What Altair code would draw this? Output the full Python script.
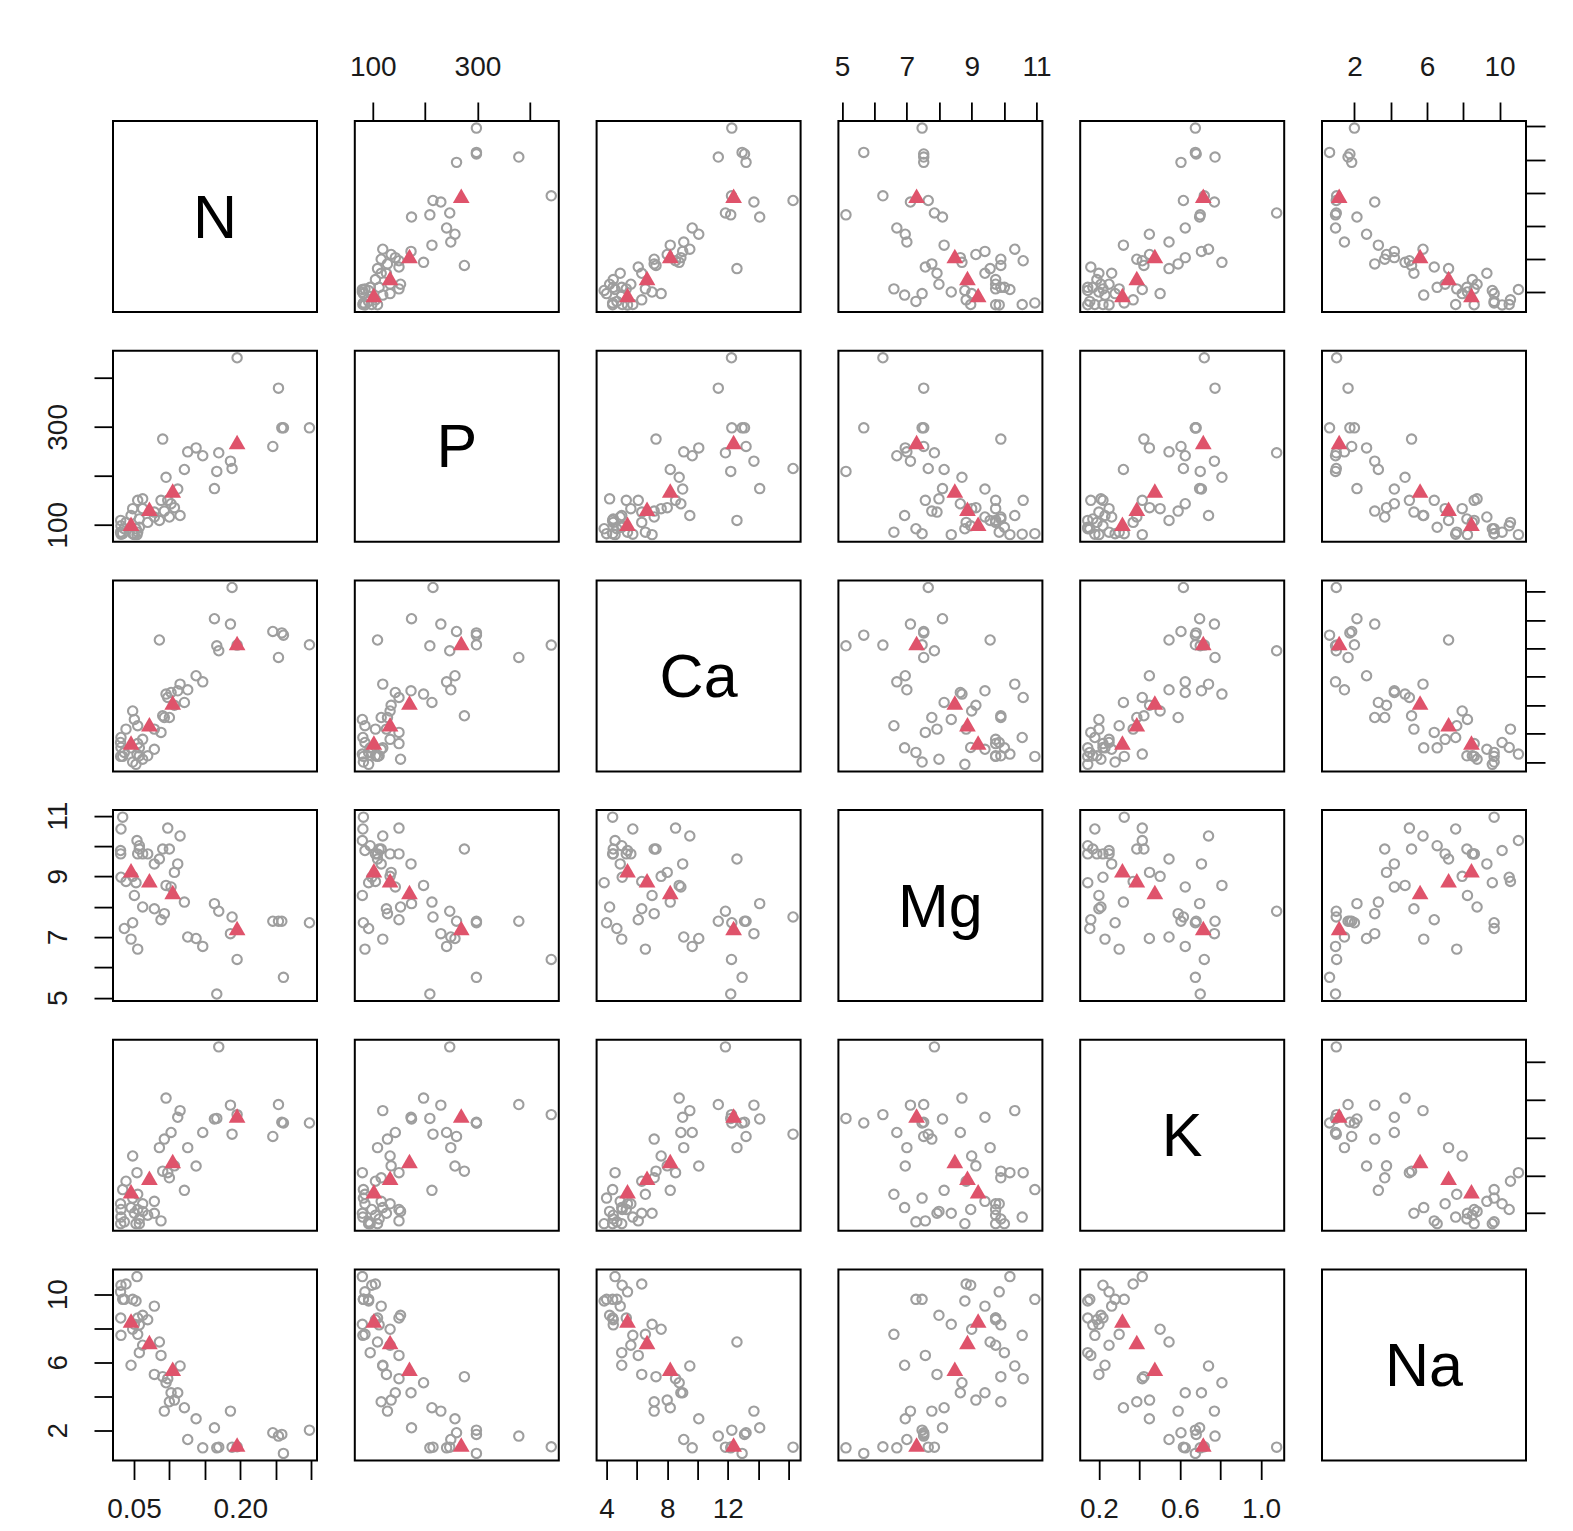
import json
import altair as alt
import pandas as pd

VARS = ["N", "P", "Ca", "Mg", "K", "Na"]

# ---- grey open-circle observations (48) ----
N = [0.1635, 0.1668, 0.1696, 0.1861, 0.1884, 0.1955, 0.2459, 0.2539, 0.2609, 0.2586, 0.2976,
     0.0858, 0.0881, 0.1150, 0.0905, 0.0976, 0.0952, 0.1023, 0.1117, 0.1070, 0.0999, 0.1211, 0.0928, 0.1376, 0.1258, 0.1470,
     0.0542, 0.0387, 0.0316, 0.0310, 0.0363, 0.0481, 0.0340, 0.0528, 0.0787, 0.0622, 0.0552, 0.0312, 0.0693, 0.0505, 0.0575,
     0.0481, 0.0552, 0.0316, 0.0622, 0.0575, 0.0458, 0.0787]
P = [174, 209, 247, 230, 215, 441, 260, 379, 298, 298, 298,
     109, 150, 119, 275, 150, 197, 143, 173, 135, 116, 213, 128, 257, 249, 241,
     80, 105, 98, 85, 92, 82, 82, 92, 116, 153, 150, 109, 105, 80, 112, 133, 85, 81, 133, 95, 119, 126]
Ca = [14.1, 12.19, 11.84, 13.72, 16.3, 12.24, 13.2, 11.37, 12.94, 13.1, 12.26,
      12.6, 6.09, 9.49, 7.26, 8.55, 8.79, 8.9, 9.02, 8.0, 7.14, 8.2, 7.14, 10.08, 9.09, 9.65,
      4.56, 6.32, 5.03, 5.38, 4.68, 4.0, 4.4, 3.84, 4.9, 4.2, 5.3, 4.4, 4.44, 7.0, 4.44, 7.6, 6.56, 5.73, 5.6, 5.0, 5.0, 6.32]
Mg = [8.10, 5.12, 7.85, 7.11, 7.66, 6.26, 7.52, 7.52, 5.67, 7.52, 7.47,
      9.57, 7.57, 10.33, 9.9, 10.59, 8.7, 8.65, 9.41, 9.13, 9.9, 8.15, 7.77, 6.95, 7.0, 6.69,
      10.18, 8.83, 8.97, 9.85, 7.28, 7.47, 10.95, 8.79, 9.41, 7.99, 9.74, 9.74, 9.74, 8.37, 9.9, 9.0, 6.60, 10.56, 9.74,
      10.01, 6.93, 7.93]
K = [0.697, 0.70, 1.077, 0.77, 0.617, 0.72, 0.605, 0.773, 0.676, 0.68, 0.676,
     0.546, 0.16, 0.741, 0.422, 0.414, 0.807, 0.626, 0.706, 0.45, 0.387, 0.321, 0.591, 0.449, 0.546, 0.626,
     0.414, 0.369, 0.22, 0.25, 0.155, 0.28, 0.325, 0.145, 0.263, 0.21, 0.22, 0.145, 0.19, 0.2, 0.17, 0.502, 0.3, 0.18,
     0.25, 0.145, 0.23, 0.2]
Na = [2.14, 0.96, 1.0, 3.12, 1.0, 1.02, 1.85, 1.65, 0.63, 1.75, 2.0,
      7.19, 6.4, 5.78, 5.15, 5.03, 4.79, 4.2, 4.2, 3.77, 3.67, 3.32, 3.12, 2.67, 1.45, 0.96,
      11.04, 10.6, 10.53, 10.14, 9.7, 9.7, 9.7, 9.6, 9.3, 8.76, 8.6, 8.6, 8.5, 8.23, 8.2, 7.94, 7.64, 7.58, 7.0, 6.56,
      5.82, 5.28]

# ---- red triangles (group means) ----
tri_N = [0.0458, 0.0717, 0.1046, 0.1955]
tri_P = [102, 133, 170, 269]
tri_Ca = [5.38, 6.67, 8.2, 12.38]
tri_Mg = [9.2, 8.87, 8.48, 7.30]
tri_K = [0.316, 0.387, 0.476, 0.715]
tri_Na = [8.45, 7.19, 5.62, 1.16]

# ---- axis ticks and which ticks carry a label ----
TICKS = {"N": [0.05, 0.10, 0.15, 0.20, 0.25, 0.30], "P": [100, 200, 300, 400],
         "Ca": [4, 6, 8, 10, 12, 14, 16], "Mg": [5, 6, 7, 8, 9, 10, 11],
         "K": [0.2, 0.4, 0.6, 0.8, 1.0], "Na": [2, 4, 6, 8, 10]}
LABELS = {"N": ["0.05", "0.20"], "P": ["100", "300"], "Ca": ["4", "8", "12"],
          "Mg": ["5", "7", "9", "11"], "K": ["0.2", "0.6", "1.0"], "Na": ["2", "6", "10"]}
FMT = {"N": ".2f", "P": "d", "Ca": "d", "Mg": "d", "K": ".1f", "Na": "d"}

df_c = pd.DataFrame({"N": N, "P": P, "Ca": Ca, "Mg": Mg, "K": K, "Na": Na})
df_t = pd.DataFrame({"N": tri_N, "P": tri_P, "Ca": tri_Ca, "Mg": tri_Mg, "K": tri_K, "Na": tri_Na})
allv = pd.concat([df_c, df_t])

DOM = {}
for v in VARS:
    lo, hi = float(allv[v].min()), float(allv[v].max())
    r = hi - lo
    DOM[v] = [lo - 0.04 * r, hi + 0.04 * r]

W, H = 204, 191
FONT = "Liberation Sans"


def make_axis(var, orient):
    expr = ("indexof(%s, format(datum.value, '%s')) >= 0 ? format(datum.value, '%s') : ''"
            % (json.dumps(LABELS[var]), FMT[var], FMT[var]))
    kw = dict(orient=orient, values=TICKS[var], labelExpr=expr, domain=False, grid=False,
              ticks=True, tickSize=19, tickWidth=1.8, tickColor="black",
              labelFont=FONT, labelFontSize=28, labelColor="#1a1a1a",
              labelOverlap=False, labelFlush=False, title=None)
    if orient == "top":
        kw.update(labelAngle=0, labelAlign="center", labelBaseline="bottom", labelPadding=21)
    elif orient == "bottom":
        kw.update(labelAngle=0, labelAlign="center", labelBaseline="top", labelPadding=16)
    elif orient == "left":
        kw.update(labelAngle=270, labelAlign="center", labelBaseline="bottom", labelPadding=22)
    else:
        kw.update(labelAngle=270, labelAlign="center", labelBaseline="top", labelPadding=16)
    return alt.Axis(**kw)


def scale(var):
    return alt.Scale(domain=DOM[var], nice=False, zero=False)


def panel(i, j):
    xv, yv = VARS[j], VARS[i]
    if i == j:
        d = pd.DataFrame({"x": [sum(DOM[xv]) / 2], "y": [sum(DOM[yv]) / 2], "t": [xv]})
        return alt.Chart(d).mark_text(font=FONT, fontSize=61, color="black", align="center",
                                      baseline="middle", dy=3).encode(
            x=alt.X("x:Q", scale=scale(xv), axis=None),
            y=alt.Y("y:Q", scale=scale(yv), axis=None),
            text="t:N",
        ).properties(width=W, height=H)
    if i == 0 and j % 2 == 1:
        xa = make_axis(xv, "top")
    elif i == 5 and j % 2 == 0:
        xa = make_axis(xv, "bottom")
    else:
        xa = None
    if j == 0 and i % 2 == 1:
        ya = make_axis(yv, "left")
    elif j == 5 and i % 2 == 0:
        ya = make_axis(yv, "right")
    else:
        ya = None
    xenc = alt.X(f"{xv}:Q", scale=scale(xv), axis=xa, title=None)
    yenc = alt.Y(f"{yv}:Q", scale=scale(yv), axis=ya, title=None)
    circ = alt.Chart(df_c).mark_point(shape="circle", filled=False, size=88, strokeWidth=2.1,
                                      color="#9E9E9E", opacity=1).encode(x=xenc, y=yenc)
    tri = alt.Chart(df_t).mark_point(shape="triangle-up", filled=True, size=280,
                                     color="#DF536B", opacity=1).encode(x=xenc, y=yenc)
    return alt.layer(circ, tri).properties(width=W, height=H)


panels = [panel(i, j) for i in range(6) for j in range(6)]

chart = alt.concat(*panels, columns=6, spacing={"row": 38.7, "column": 37.8}, bounds="flush").properties(
    padding={"left": 35, "top": 44, "right": -26, "bottom": -4},
    background="white",
).configure_view(stroke="black", strokeWidth=2)

chart.save("out.html", embed_options={"renderer": "svg", "actions": False})
